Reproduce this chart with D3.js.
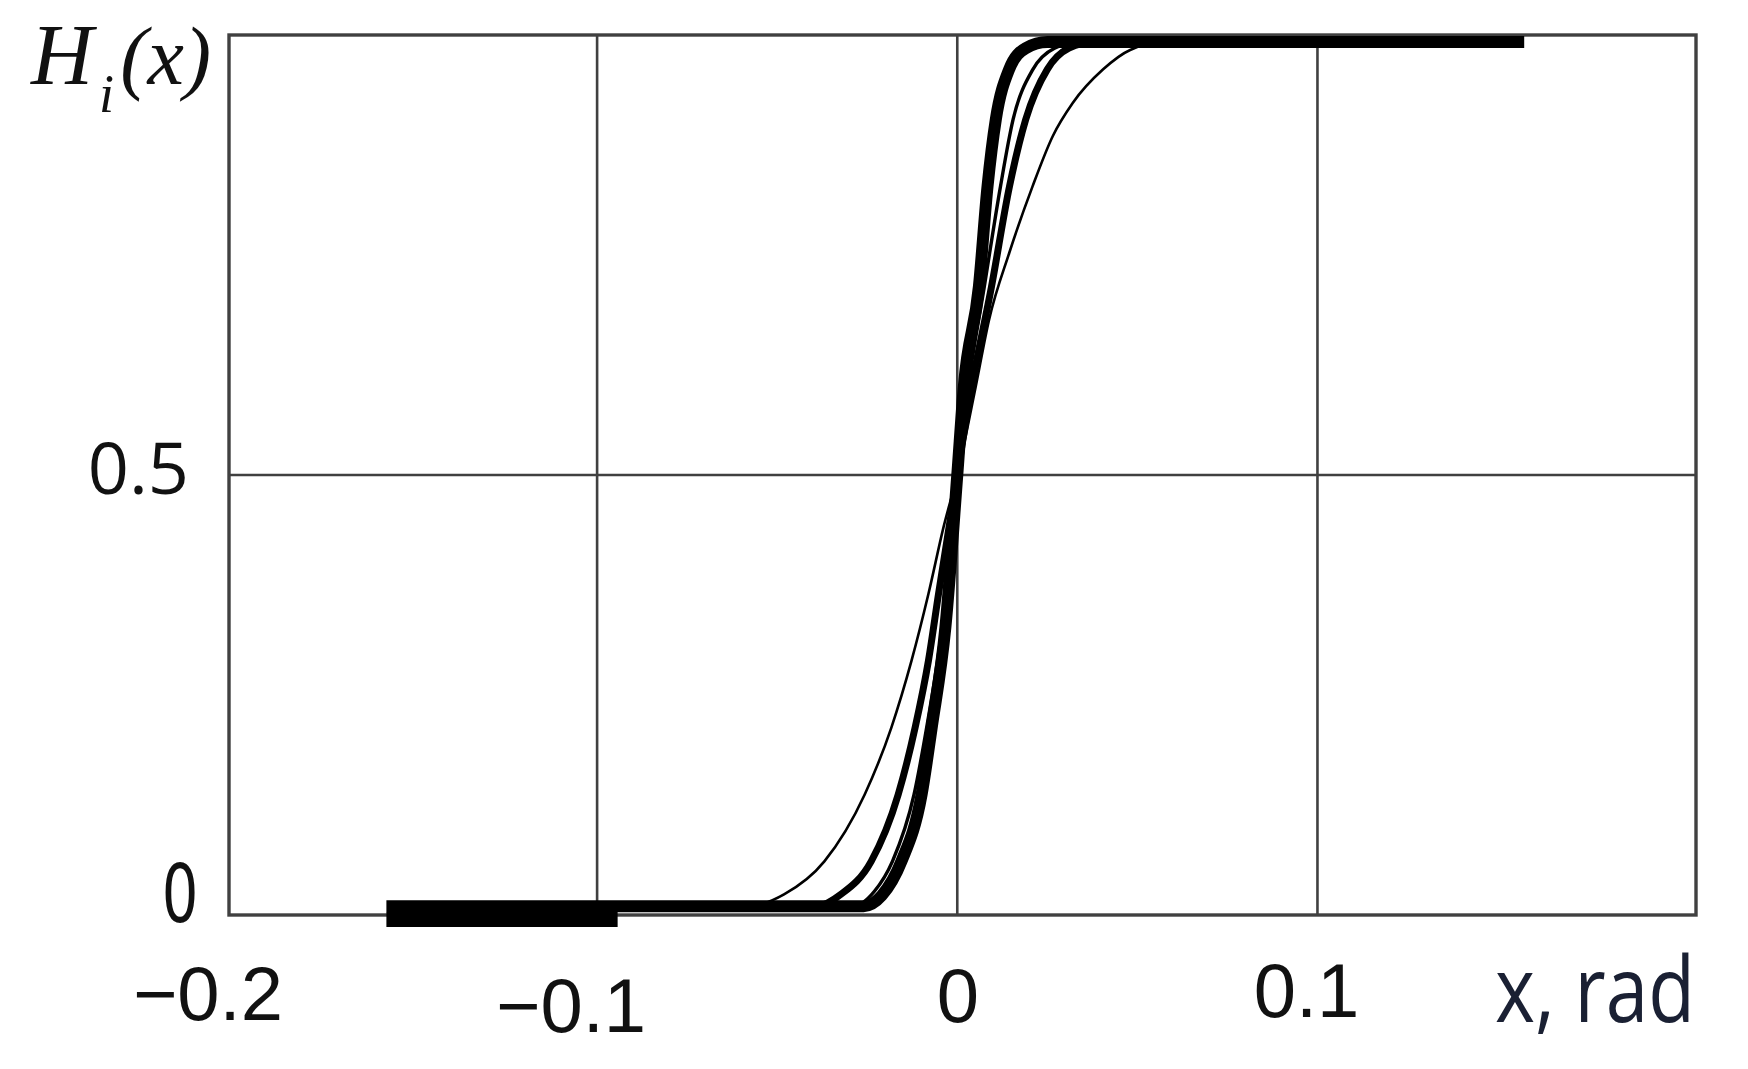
<!DOCTYPE html>
<html>
<head>
<meta charset="utf-8">
<script src="https://d3js.org/d3.v7.min.js"></script>
<style>
  html, body { margin: 0; padding: 0; background: #fff; }
  svg { display: block; }
</style>
</head>
<body>
<svg id="chart"></svg>
<script>
// curve data (x in rad, y = H_i(x))
const curveAX = [-0.1585, -0.026, -0.021, -0.0155, -0.0099, -0.0071, -0.0033, 0, 0.0018, 0.006, 0.0084, 0.0107, 0.0144, 0.019, 0.025, 0.1574]
const curveAY = [0.01, 0.01, 0.022, 0.061, 0.137, 0.213, 0.327, 0.5, 0.60, 0.714, 0.828, 0.904, 0.961, 0.985, 0.992, 0.992]

const curveBX = [-0.0955, -0.029, -0.023, -0.018, -0.012, -0.0085, -0.0055, -0.003, 0, 0.003, 0.0075, 0.012, 0.0155, 0.021, 0.027, 0.034, 0.1]
const curveBY = [0.01, 0.01, 0.027, 0.061, 0.137, 0.213, 0.289, 0.365, 0.5, 0.6, 0.714, 0.828, 0.904, 0.961, 0.985, 0.992, 0.992]

const curveCX = [-0.0955, -0.039, -0.0323, -0.0239, -0.0164, -0.0117, -0.008, -0.0052, 0, 0.004, 0.0095, 0.0145, 0.019, 0.025, 0.031, 0.038, 0.1]
const curveCY = [0.01, 0.01, 0.0235, 0.061, 0.137, 0.213, 0.289, 0.365, 0.5, 0.6, 0.714, 0.828, 0.904, 0.961, 0.985, 0.992, 0.992]

const curveDX = [-0.0955, -0.058, -0.0481, -0.0369, -0.0257, -0.0183, -0.0127, -0.008, -0.0038, 0, 0.0051, 0.0088, 0.0144, 0.0209, 0.0265, 0.0321, 0.0405, 0.048, 0.058, 0.1]
const curveDY = [0.01, 0.01, 0.0235, 0.061, 0.137, 0.213, 0.289, 0.365, 0.441, 0.5, 0.6, 0.676, 0.752, 0.828, 0.885, 0.923, 0.961, 0.983, 0.992, 0.992]

// heavy stub along the floor on the left
const tailX = [-0.1585, -0.0943]
const tailY = [-0.005, -0.005]

const xTickValues = [-0.2, -0.1, 0, 0.1]
const xTickLabels = ['\u22120.2', '\u22120.1', '0', '0.1']
const xGridValues = [-0.1, 0, 0.1]
const yTickValues = [0, 0.5]
const yTickLabels = ['0', '0.5']
const yGridValues = [0.5]

const width = 1748
const height = 1069
const plot = {left: 229, right: 1696, top: 35, bottom: 915}

const svg = d3.select('#chart')
  .attr('width', width)
  .attr('height', height)

svg.append('rect')
  .attr('width', width)
  .attr('height', height)
  .attr('fill', '#fff')

const x = d3.scaleLinear()
  .domain([-0.2022, 0.2051])
  .range([plot.left, plot.right])
const y = d3.scaleLinear()
  .domain([0, 1])
  .range([plot.bottom, plot.top])

const frameColor = '#404040'

// grid
svg.append('g')
  .classed('grid-x', true)
  .selectAll('line')
  .data(xGridValues)
  .enter()
  .append('line')
  .attr('x1', (d) => x(d))
  .attr('x2', (d) => x(d))
  .attr('y1', y(1))
  .attr('y2', y(0))
  .attr('stroke', frameColor)
  .attr('stroke-width', 2.6)
svg.append('g')
  .classed('grid-y', true)
  .selectAll('line')
  .data(yGridValues)
  .enter()
  .append('line')
  .attr('x1', plot.left)
  .attr('x2', plot.right)
  .attr('y1', (d) => y(d))
  .attr('y2', (d) => y(d))
  .attr('stroke', frameColor)
  .attr('stroke-width', 2.6)

// frame
svg.append('rect')
  .attr('x', plot.left)
  .attr('y', plot.top)
  .attr('width', plot.right - plot.left)
  .attr('height', plot.bottom - plot.top)
  .attr('fill', 'none')
  .attr('stroke', frameColor)
  .attr('stroke-width', 3.4)

// curves
const series = [
  {key: 'D', xs: curveDX, ys: curveDY, w: 2.6},
  {key: 'C', xs: curveCX, ys: curveCY, w: 7},
  {key: 'B', xs: curveBX, ys: curveBY, w: 3.4},
  {key: 'A', xs: curveAX, ys: curveAY, w: 12},
  {key: 'tail', xs: tailX, ys: tailY, w: 15}
]

const line = d3.line()
  .x((d) => x(d[0]))
  .y((d) => y(d[1]))
  .curve(d3.curveMonotoneX)

svg.append('g')
  .classed('curves', true)
  .selectAll('path')
  .data(series)
  .enter()
  .append('path')
  .attr('d', (s) => line(d3.zip(s.xs, s.ys)))
  .attr('fill', 'none')
  .attr('stroke', '#000')
  .attr('stroke-width', (s) => s.w)
  .attr('stroke-linejoin', 'round')
  .attr('stroke-linecap', 'butt')

// x tick labels, placed as in the picture (offsets from the tick value)
const xLabelShift = [[-29, 1020], [-26, 1032], [0.5, 1022], [-11, 1017]]
svg.append('g')
  .classed('x-labels', true)
  .selectAll('text')
  .data(xTickValues)
  .enter()
  .append('text')
  .text((d, i) => xTickLabels[i])
  .attr('x', (d, i) => x(d) + xLabelShift[i][0])
  .attr('y', (d, i) => xLabelShift[i][1])
  .attr('text-anchor', 'middle')
  .attr('font-family', '"Liberation Sans", Arial, sans-serif')
  .attr('font-size', 76)
  .attr('fill', '#111')

// y tick labels
const yLabelStyle = [
  {x: 180, y: 922, anchor: 'middle', family: '"Liberation Sans Narrow", "DejaVu Sans Condensed", sans-serif', size: 80, sx: 0.8},
  {x: 189, y: 0, anchor: 'end', family: '"Open Sans", sans-serif', size: 72, sx: 1}
]
svg.append('g')
  .classed('y-labels', true)
  .selectAll('text')
  .data(yTickValues)
  .enter()
  .append('text')
  .text((d, i) => yTickLabels[i])
  .attr('transform', (d, i) => {
    const s = yLabelStyle[i]
    const ty = s.y || (y(d) + 19)
    return 'translate(' + s.x + ',' + ty + ') scale(' + s.sx + ',1)'
  })
  .attr('text-anchor', (d, i) => yLabelStyle[i].anchor)
  .attr('font-family', (d, i) => yLabelStyle[i].family)
  .attr('font-size', (d, i) => yLabelStyle[i].size)
  .attr('fill', '#111')

// axis titles
svg.append('text')
  .text('x, rad')
  .attr('transform', 'translate(1495,1022) scale(0.83,1)')
  .attr('font-family', '"Open Sans", sans-serif')
  .attr('font-size', 92)
  .attr('fill', '#1a2033')

const yTitle = svg.append('text')
  .attr('x', 31)
  .attr('y', 84)
  .attr('font-family', '"Liberation Serif", "Times New Roman", serif')
  .attr('font-style', 'italic')
  .attr('font-size', 86)
  .attr('fill', '#111')
yTitle.append('tspan').text('H')
yTitle.append('tspan')
  .text('i')
  .attr('dx', 6)
  .attr('dy', 28)
  .attr('font-size', 54)
yTitle.append('tspan')
  .text('(x)')
  .attr('dx', 6)
  .attr('dy', -28)
  .attr('font-size', 82)
</script>
</body>
</html>
